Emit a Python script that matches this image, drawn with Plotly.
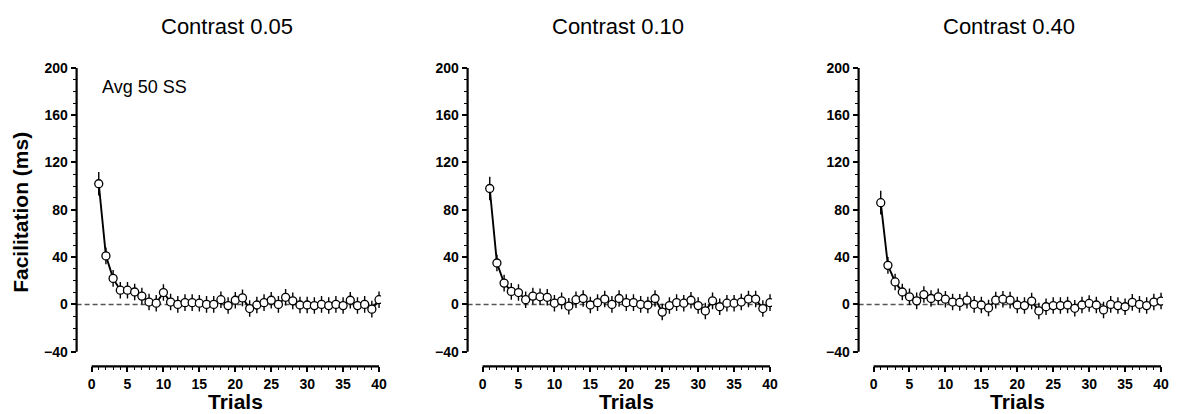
import plotly.graph_objects as go

trials = list(range(1, 41))

titles = ["Contrast 0.05", "Contrast 0.10", "Contrast 0.40"]

fac_005 = [102, 41, 22, 12, 12, 10.5, 7, 2, 1, 10,
           2, 0, 1.5, 1.5, 1, 0, 0, 4, -1, 3.5,
           5.5, -3.5, -0.5, 1.5, 3.5, 0, 6, 3, -0.5, -0.5,
           -1, 0, -1, 0, -1, 3.5, -1, 0, -4, 4]
err_005 = [10, 7, 7, 7, 7, 7, 7, 7, 7, 7,
           7, 7, 7, 7, 7, 7, 7, 7, 7, 7,
           7, 7, 7, 7, 7, 7, 7, 7, 7, 7,
           7, 7, 7, 7, 7, 7, 7, 7, 7, 7]

fac_010 = [98, 35, 18, 11, 10, 4, 7, 6.4, 6, 1,
           3, -1.5, 4, 5, -0.5, 1.5, 4.5, 0, 5, 1.5,
           1.5, 0, -0.5, 5, -6.5, -1, 1.5, 1, 3.5, -1,
           -5.5, 3, -2, 1, 1, 2, 4.5, 4.5, -3.5, 1.5]
err_010 = [10, 7, 7, 7, 7, 7, 7, 7, 7, 7,
           7, 7, 7, 7, 7, 7, 7, 7, 7, 7,
           7, 7, 7, 7, 7, 7, 7, 7, 7, 7,
           7, 7, 7, 7, 7, 7, 7, 7, 7, 7]

fac_040 = [86, 33, 19, 10.5, 6.4, 3, 8.3, 5, 6.4, 4.4,
           2, 1.7, 3.6, 0, -0.5, -3, 3.6, 4.4, 3.6, -0.5,
           -1, 2.8, -5.5, -2, -1, -1, -0.5, -3.3, -0.5, 0.8,
           -0.5, -4.7, 0, -1, -2, 1.7, 0, -1, 2, 2.8]
err_040 = [10, 7, 7, 7, 7, 7, 7, 7, 7, 7,
           7, 7, 7, 7, 7, 7, 7, 7, 7, 7,
           7, 7, 7, 7, 7, 7, 7, 7, 7, 7,
           7, 7, 7, 7, 7, 7, 7, 7, 7, 7]

series = [(fac_005, err_005), (fac_010, err_010), (fac_040, err_040)]

y_ticks = [-40, 0, 40, 80, 120, 160, 200]
y_minor = list(range(-40, 201, 10))
x_ticks = [0, 5, 10, 15, 20, 25, 30, 35, 40]
x_minor = list(range(0, 41))

W, H = 1177, 414
FONT = "Arial, Liberation Sans, sans-serif"

fig = go.Figure()

x_range = [-2.08, 40.28]
y_range = [-52.44, 200]
ydom = [(H - 365.5) / H, (H - 61) / H]
panel_w = 306

for i, (vals, errs) in enumerate(series):
    sfx = "" if i == 0 else str(i + 1)
    left = 77 + 393 * i
    right = left + panel_w
    fig.add_trace(go.Scatter(
        x=trials, y=vals,
        mode="lines+markers",
        line=dict(color="black", width=1.9),
        marker=dict(symbol="circle", size=8, color="white",
                    line=dict(color="black", width=1.3)),
        error_y=dict(type="data", array=errs, color="black",
                     thickness=1.4, width=0),
        xaxis="x" + sfx, yaxis="y" + sfx,
        showlegend=False,
    ))
    fig.update_layout(**{
        "xaxis" + sfx: dict(
            domain=[left / W, right / W], range=x_range,
            anchor="y" + sfx, showgrid=False, zeroline=False, showline=False,
            tickmode="array", tickvals=x_ticks, ticks="outside",
            ticklen=5, tickwidth=1.6, tickcolor="black",
            minor=dict(tickmode="array", tickvals=x_minor, ticks="outside",
                       ticklen=3, tickwidth=1.3, tickcolor="black"),
            tickfont=dict(family=FONT, size=14, color="black", weight="bold"),
        ),
        "yaxis" + sfx: dict(
            domain=ydom, range=y_range,
            anchor="x" + sfx, showgrid=False, zeroline=False, showline=False,
            tickmode="array", tickvals=y_ticks, ticks="outside",
            ticklen=5, tickwidth=1.6, tickcolor="black",
            minor=dict(tickmode="array", tickvals=y_minor, ticks="outside",
                       ticklen=3, tickwidth=1.3, tickcolor="black"),
            tickfont=dict(family=FONT, size=14, color="black", weight="bold"),
        ),
    })
    xr = "x" + sfx
    yr = "y" + sfx
    # axis lines (offset, Prism style)
    fig.add_shape(type="line", xref=xr + " domain", yref=yr,
                  x0=0, x1=0, y0=y_ticks[0], y1=y_ticks[-1],
                  line=dict(color="black", width=2.2))
    fig.add_shape(type="line", xref=xr, yref=yr + " domain",
                  x0=x_ticks[0], x1=x_ticks[-1], y0=0, y1=0,
                  line=dict(color="black", width=2.2))
    # zero reference line
    fig.add_shape(type="line", xref=xr + " domain", yref=yr,
                  x0=0, x1=(40 - x_range[0]) / (x_range[1] - x_range[0]), y0=0, y1=0,
                  line=dict(color="#555555", width=1.5, dash="5px,3px"), layer="below")
    # panel title
    fig.add_annotation(text=titles[i], xref=xr, x=18.9, yref="paper", y=(H - 18.5) / H,
                       showarrow=False, xanchor="center", yanchor="middle",
                       font=dict(family=FONT, size=22, color="black"))
    # x title
    fig.add_annotation(text="<b>Trials</b>", xref=xr, x=20, yref="paper", y=(H - 401.5) / H,
                       showarrow=False, xanchor="center", yanchor="middle",
                       font=dict(family=FONT, size=21, color="black"))

fig.add_annotation(text="Avg 50 SS", xref="paper", x=100.5 / W, yref="paper", y=(H - 81) / H,
                   showarrow=False, xanchor="left", yanchor="middle",
                   font=dict(family=FONT, size=18, color="black"))

fig.add_annotation(text="<b>Facilitation (ms)</b>", xref="paper", x=21 / W,
                   yref="paper", y=(H - 208) / H, textangle=-90,
                   showarrow=False, xanchor="center", yanchor="middle",
                   font=dict(family=FONT, size=21, color="black"))

fig.update_layout(
    width=W, height=H,
    margin=dict(l=0, r=0, t=0, b=0),
    paper_bgcolor="white", plot_bgcolor="white",
    font=dict(family=FONT, color="black"),
)

fig.write_html("out.html", config={"displayModeBar": False},
               post_script="document.body.style.margin='0px';")
